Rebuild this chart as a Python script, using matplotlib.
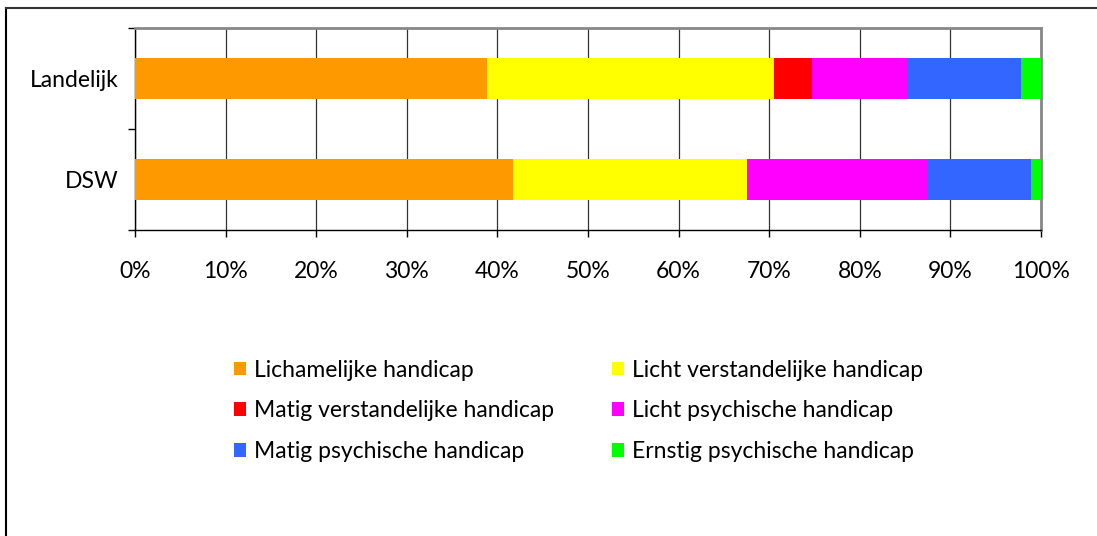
import numpy as np
import matplotlib
matplotlib.use('Agg')
import matplotlib.pyplot as plt
from matplotlib.patches import Patch
from matplotlib.lines import Line2D

# Data (percentages per group)
groups = ['DSW', 'Landelijk']
categories = ['Lichamelijke handicap', 'Licht verstandelijke handicap',
              'Matig verstandelijke handicap', 'Licht psychische handicap',
              'Matig psychische handicap', 'Ernstig psychische handicap']
dsw = [41.7, 25.9, 0.0, 19.8, 11.5, 1.1]
landelijk = [38.9, 31.6, 4.2, 10.5, 12.6, 2.2]
colors = ['#FF9900', '#FFFF00', '#FF0000', '#FF00FF', '#3366FF', '#00FF00']
xticks = np.arange(0, 101, 10)

plt.rcParams['font.family'] = ['Lato', 'DejaVu Sans']
fs = 16.5

fig = plt.figure(figsize=(10.97, 5.36), dpi=100)
ax = fig.add_axes([135 / 1097, 1 - 230 / 536, 906 / 1097, 202 / 536])

values = np.array([dsw, landelijk])
y = np.arange(len(groups))
left = np.zeros(len(groups))
for i, cat in enumerate(categories):
    ax.barh(y, values[:, i], left=left, height=0.4, color=colors[i],
            label=cat, zorder=3)
    left += values[:, i]

# Axes, ticks and grid
ax.set_xlim(0, 100)
ax.set_ylim(-0.5, 1.5)
ax.set_xticks(xticks)
ax.set_xticklabels(['{}%'.format(t) for t in xticks])
ax.set_yticks(y)
ax.set_yticklabels(groups)
ax.set_yticks([-0.5, 0.5, 1.5], minor=True)
ax.tick_params(axis='y', which='major', length=0, pad=12, labelsize=fs)
ax.tick_params(axis='y', which='minor', length=5, width=1, direction='out')
ax.tick_params(axis='x', length=5, width=1, direction='out', pad=17,
               labelsize=fs)
ax.xaxis.grid(True, color='#333333', linewidth=0.9, zorder=0)
ax.set_axisbelow(True)
for side in ['left', 'bottom']:
    ax.spines[side].set_color('black')
    ax.spines[side].set_linewidth(1)
for side in ['top', 'right']:
    ax.spines[side].set_color('#888888')
    ax.spines[side].set_linewidth(2)

# Legend below the plot, filled row by row
handles = [Patch(facecolor=c, edgecolor='none') for c in colors]
order = [0, 2, 4, 1, 3, 5]
fig.legend([handles[i] for i in order], [categories[i] for i in order],
           loc='upper left', bbox_to_anchor=(213 / 1097, 1 - 339 / 536),
           ncol=2, frameon=False, fontsize=fs, handlelength=0.55,
           handleheight=0.55, handletextpad=0.35, columnspacing=2.5,
           labelspacing=0.86)

# Outer frame lines (left and top only)
fig.add_artist(Line2D([6 / 1097, 6 / 1097], [0, 1 - 8 / 536],
                      color='black', linewidth=1.5))
fig.add_artist(Line2D([6 / 1097, 1], [1 - 8 / 536, 1 - 8 / 536],
                      color='#333333', linewidth=1.5))

plt.savefig('out.png', dpi=100)
plt.close()
